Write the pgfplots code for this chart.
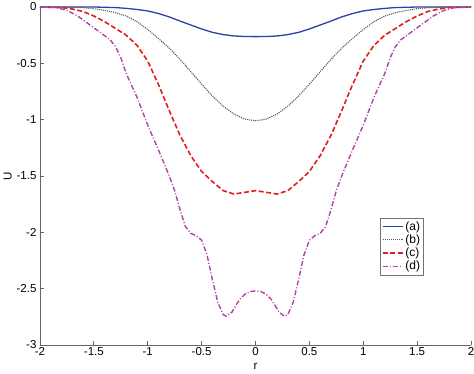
\documentclass[border=0pt]{standalone}
\usepackage{fontspec}
\setmainfont{Liberation Sans}
\usepackage{pgfplots}
\pgfplotsset{compat=1.18}
\definecolor{cA}{RGB}{45,65,170}
\definecolor{cB}{RGB}{90,90,90}
\definecolor{cC}{RGB}{225,30,30}
\definecolor{cD}{RGB}{180,65,165}
\begin{document}
\begin{tikzpicture}
\begin{axis}[
  scale only axis, width=431pt, height=338pt,
  xmin=-2, xmax=2, ymin=-3, ymax=0,
  axis lines*=left, axis line style={-, draw=black!60, line width=0.8pt},
  tick align=inside, major tick length=4pt,
  tick style={black!60, line width=0.8pt},
  xtick={-2,-1.5,...,2}, ytick={-3,-2.5,...,0},
  /pgf/number format/assume math mode=true,
  ticklabel style={font=\fontsize{11.5}{13}\selectfont},
  xticklabel style={yshift=1pt},
  xlabel={r}, ylabel={U},
  label style={font=\fontsize{11.5}{13}\selectfont},
  xlabel style={yshift=-1pt},
  ylabel style={yshift=-2pt},
  legend cell align=left,
  legend style={at={(rel axis cs:0.789,0.376)}, anchor=north west,
    font=\fontsize{12}{12}\selectfont, draw=black!55, inner sep=1.5pt, row sep=-1pt},
  legend image code/.code={\draw[#1] (0pt,0pt) -- (20pt,0pt);},
  clip=false,
]
\addplot[cA, line width=1.3pt] coordinates {
(-2,0) (-1.5,0) (-1.3,-0.005) (-1.2,-0.012) (-1.1,-0.022) (-1.0,-0.035) (-0.9,-0.058) (-0.8,-0.088) (-0.7,-0.125) (-0.6,-0.16) (-0.5,-0.195) (-0.4,-0.225) (-0.3,-0.245) (-0.2,-0.257) (-0.1,-0.262) (0,-0.263)
(0.1,-0.262) (0.2,-0.257) (0.3,-0.245) (0.4,-0.225) (0.5,-0.195) (0.6,-0.16) (0.7,-0.125) (0.8,-0.088) (0.9,-0.058) (1.0,-0.035) (1.1,-0.022) (1.2,-0.012) (1.3,-0.005) (1.5,0) (2,0)};
\addlegendentry{(a)}
\addplot[cB, line width=1.1pt, densely dotted] coordinates {
(-2,0) (-1.7,-0.002) (-1.6,-0.006) (-1.5,-0.015) (-1.4,-0.03) (-1.3,-0.05) (-1.2,-0.08) (-1.1,-0.13) (-1.0,-0.2) (-0.9,-0.28) (-0.8,-0.365) (-0.7,-0.465) (-0.6,-0.575) (-0.5,-0.685) (-0.4,-0.79) (-0.3,-0.88) (-0.2,-0.95) (-0.1,-0.995) (0,-1.01)
(0.1,-0.995) (0.2,-0.95) (0.3,-0.88) (0.4,-0.79) (0.5,-0.685) (0.6,-0.575) (0.7,-0.465) (0.8,-0.365) (0.9,-0.28) (1.0,-0.2) (1.1,-0.13) (1.2,-0.08) (1.3,-0.05) (1.4,-0.03) (1.5,-0.015) (1.6,-0.006) (1.7,-0.002) (2,0)};
\addlegendentry{(b)}
\addplot[cC, line width=1.6pt, dash pattern=on 5pt off 2.5pt] coordinates {
(-2,0) (-1.8,-0.005) (-1.7,-0.018) (-1.6,-0.04) (-1.5,-0.08) (-1.4,-0.13) (-1.3,-0.19) (-1.2,-0.25) (-1.1,-0.34) (-1.0,-0.48) (-0.9,-0.69) (-0.8,-0.92) (-0.7,-1.14) (-0.6,-1.32) (-0.5,-1.46) (-0.4,-1.55) (-0.3,-1.63) (-0.2,-1.66) (-0.1,-1.645) (0,-1.63)
(0.1,-1.645) (0.2,-1.66) (0.3,-1.63) (0.4,-1.55) (0.5,-1.46) (0.6,-1.32) (0.7,-1.14) (0.8,-0.92) (0.9,-0.69) (1.0,-0.48) (1.1,-0.34) (1.2,-0.25) (1.3,-0.19) (1.4,-0.13) (1.5,-0.08) (1.6,-0.04) (1.7,-0.018) (1.8,-0.005) (2,0)};
\addlegendentry{(c)}
\addplot[cD, line width=1.4pt, dash pattern=on 5pt off 2pt on 1pt off 2pt] coordinates {
(-2,0) (-1.85,-0.005) (-1.75,-0.03) (-1.65,-0.08) (-1.55,-0.15) (-1.45,-0.22) (-1.35,-0.29) (-1.3,-0.35) (-1.25,-0.45) (-1.2,-0.59) (-1.1,-0.8) (-1.0,-1.05) (-0.9,-1.27) (-0.8,-1.5) (-0.75,-1.63) (-0.7,-1.8) (-0.65,-1.95) (-0.6,-2.01) (-0.55,-2.03) (-0.5,-2.07) (-0.45,-2.2) (-0.4,-2.42) (-0.35,-2.62) (-0.3,-2.73) (-0.27,-2.745) (-0.22,-2.71) (-0.15,-2.6) (-0.1,-2.55) (-0.05,-2.525) (0,-2.52)
(0.05,-2.525) (0.1,-2.55) (0.15,-2.6) (0.22,-2.71) (0.27,-2.745) (0.3,-2.73) (0.35,-2.62) (0.4,-2.42) (0.45,-2.2) (0.5,-2.07) (0.55,-2.03) (0.6,-2.01) (0.65,-1.95) (0.7,-1.8) (0.75,-1.63) (0.8,-1.5) (0.9,-1.27) (1.0,-1.05) (1.1,-0.8) (1.2,-0.59) (1.25,-0.45) (1.3,-0.35) (1.35,-0.29) (1.45,-0.22) (1.55,-0.15) (1.65,-0.08) (1.75,-0.03) (1.85,-0.005) (2,0)};
\addlegendentry{(d)}
\coordinate (sw) at (rel axis cs:0,0);
\coordinate (ne) at (rel axis cs:1,1);
\end{axis}
\pgfresetboundingbox
\path ([xshift=-40pt,yshift=-28pt]sw) rectangle ([xshift=3pt,yshift=7pt]ne);
\end{tikzpicture}
\end{document}
